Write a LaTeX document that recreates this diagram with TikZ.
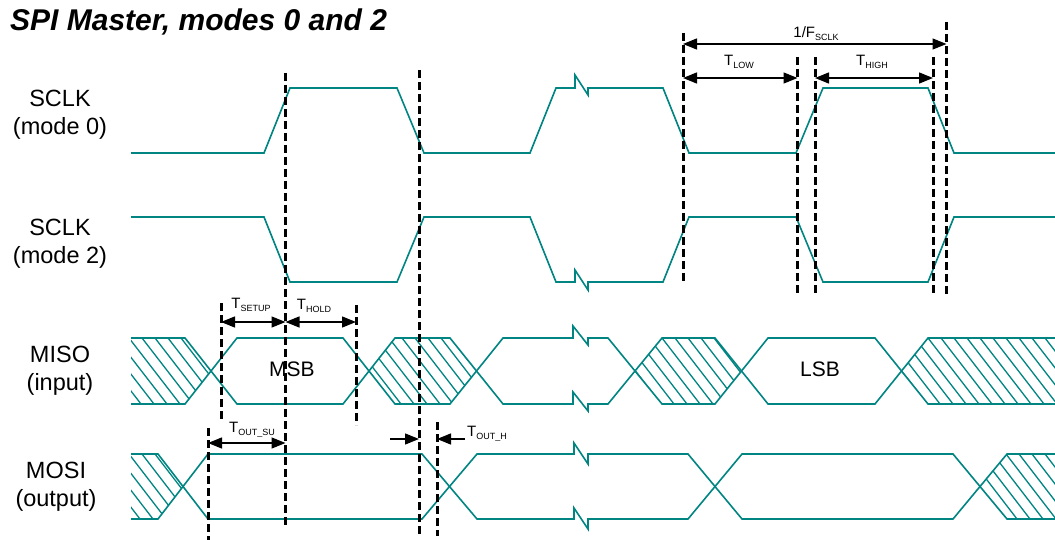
\documentclass[tikz,border=0pt]{standalone}
\usepackage{fontspec}
\setmainfont{Liberation Sans}
\usetikzlibrary{arrows.meta}
\definecolor{wave}{RGB}{0,133,131}
\newcommand{\tlab}[2]{#1\raisebox{-3pt}{\fontsize{9}{9}\selectfont #2}}

\begin{document}
\begin{tikzpicture}[x=1pt,y=-1pt]
          \tikzstyle{every node}+=[inner sep=0pt]
          \tikzstyle{sig}=[wave,line width=1.6pt]
          \tikzstyle{hat}=[wave,line width=1.3pt]
          \tikzstyle{guide}=[black,line width=3pt,dash pattern=on 8pt off 4pt]
          \tikzstyle{dimarrow}=[black,line width=1.4pt,{Triangle[length=14pt,width=11pt]}-{Triangle[length=14pt,width=11pt]}]
          \tikzstyle{onearrow}=[black,line width=1.4pt,-{Triangle[length=14pt,width=11pt]}]
          \tikzstyle{signame}=[font=\fontsize{23.5}{28}\selectfont,align=center]
          \tikzstyle{tname}=[font=\fontsize{15}{16}\selectfont]
          \useasboundingbox (0,0) rectangle (1055,540);
          % title and signal names
          \node (title) [anchor=west,font=\fontsize{30}{32}\selectfont\bfseries\itshape] at (10,22) {SPI Master, modes 0 and 2};
          \node (sclkA) [signame] at (60,115) {SCLK\\(mode 0)};
          \node (sclkB) [signame] at (60,244) {SCLK\\(mode 2)};
          \node (miso) [signame] at (60,371) {MISO\\(input)};
          \node (mosi) [signame] at (56,487) {MOSI\\(output)};
          % SCLK mode 0
          \draw [sig] (131,153) -- (264,153) -- (290,88) -- (397,88) -- (424,153) -- (530,153) -- (556,88) -- (575,88) -- (575,75) -- (588,95) -- (588,88) -- (663,88) -- (689,153) -- (796,153) -- (823,88) -- (928,88) -- (954,153) -- (1055,153);
          % SCLK mode 2
          \draw [sig] (131,217) -- (264,217) -- (290,282) -- (397,282) -- (424,217) -- (530,217) -- (556,282) -- (575,282) -- (575,270) -- (588,290) -- (588,282) -- (663,282) -- (689,217) -- (796,217) -- (823,282) -- (928,282) -- (954,217) -- (1055,217);
          % MISO
          \draw [sig] (131,338) -- (185,338) -- (237,404) -- (343,404) -- (395,338) -- (450,338) -- (503,404) -- (573,404) -- (573,392) -- (588,411) -- (588,404) -- (608,404) -- (662,338) -- (715,338) -- (768,404) -- (875,404) -- (928,338) -- (1055,338);
          \draw [sig] (131,404) -- (185,404) -- (237,338) -- (343,338) -- (395,404) -- (450,404) -- (503,338) -- (573,338) -- (573,326) -- (588,345) -- (588,338) -- (608,338) -- (662,404) -- (715,404) -- (768,338) -- (875,338) -- (928,404) -- (1055,404);
          \begin{scope}
            \clip (131,338) -- (185,338) -- (211,371) -- (185,404) -- (131,404) -- cycle;
            \foreach \x in {77,90,...,220} \draw [hat] (\x,338) -- ++(51,66);
          \end{scope}
          \begin{scope}
            \clip (369,371) -- (395,338) -- (450,338) -- (476,371) -- (450,404) -- (395,404) -- cycle;
            \foreach \x in {311,324,...,480} \draw [hat] (\x,338) -- ++(51,66);
          \end{scope}
          \begin{scope}
            \clip (635,371) -- (662,338) -- (715,338) -- (741,371) -- (715,404) -- (662,404) -- cycle;
            \foreach \x in {584,597,...,745} \draw [hat] (\x,338) -- ++(51,66);
          \end{scope}
          \begin{scope}
            \clip (901,371) -- (928,338) -- (1055,338) -- (1055,404) -- (928,404) -- cycle;
            \foreach \x in {850,863,...,1060} \draw [hat] (\x,338) -- ++(51,66);
          \end{scope}
          \node (msb) [font=\fontsize{21}{22}\selectfont] at (292,369) {MSB};
          \node (lsb) [font=\fontsize{21}{22}\selectfont] at (820,369) {LSB};
          % MOSI
          \draw [sig] (131,454) -- (158,454) -- (208,519) -- (422,519) -- (477,454) -- (574,454) -- (574,443) -- (588,464) -- (588,454) -- (688,454) -- (742,519) -- (953,519) -- (1007,454) -- (1055,454);
          \draw [sig] (131,519) -- (158,519) -- (208,454) -- (422,454) -- (477,519) -- (574,519) -- (574,508) -- (588,529) -- (588,519) -- (688,519) -- (742,454) -- (953,454) -- (1007,519) -- (1055,519);
          \begin{scope}
            \clip (131,454) -- (158,454) -- (183,486) -- (158,519) -- (131,519) -- cycle;
            \foreach \x in {77,90,...,170} \draw [hat] (\x,454) -- ++(50,65);
          \end{scope}
          \begin{scope}
            \clip (980,486) -- (1007,454) -- (1055,454) -- (1055,519) -- (1007,519) -- cycle;
            \foreach \x in {928,941,...,1060} \draw [hat] (\x,454) -- ++(50,65);
          \end{scope}
          % guide lines
          \draw [guide] (285.5,73) -- (285.5,528);
          \draw [guide] (419,70) -- (419,536);
          \draw [guide] (221,303) -- (221,421);
          \draw [guide] (356,305) -- (356,425);
          \draw [guide] (208,428) -- (208,540);
          \draw [guide] (437,422) -- (437,536);
          \draw [guide] (683,33) -- (683,282);
          \draw [guide] (797.5,57) -- (797.5,296);
          \draw [guide] (815,57) -- (815,293);
          \draw [guide] (933,57) -- (933,296);
          \draw [guide] (946.5,22) -- (946.5,297);
          % timing arrows
          \draw [dimarrow] (683,44) -- (946.5,44);
          \node (tfsclk) [tname] at (816,34) {\tlab{1/F}{SCLK}};
          \draw [dimarrow] (683,78) -- (797.5,78);
          \node (tlow) [tname] at (739,62) {\tlab{T}{LOW}};
          \draw [dimarrow] (815,78) -- (933,78);
          \node (thigh) [tname] at (872,62) {\tlab{T}{HIGH}};
          \draw [dimarrow] (221,322) -- (285.5,322);
          \node (tsetup) [tname] at (251,305) {\tlab{T}{SETUP}};
          \draw [dimarrow] (285.5,322) -- (356,322);
          \node (thold) [tname] at (314,306) {\tlab{T}{HOLD}};
          \draw [dimarrow] (208,443) -- (285.5,443);
          \node (toutsu) [tname] at (252,430) {\tlab{T}{OUT\_SU}};
          \draw [onearrow] (390,439) -- (419,439);
          \draw [onearrow] (465,439) -- (437,439);
          \node (touth) [tname,anchor=west] at (467,434) {\tlab{T}{OUT\_H}};
        \end{tikzpicture}
\end{document}
